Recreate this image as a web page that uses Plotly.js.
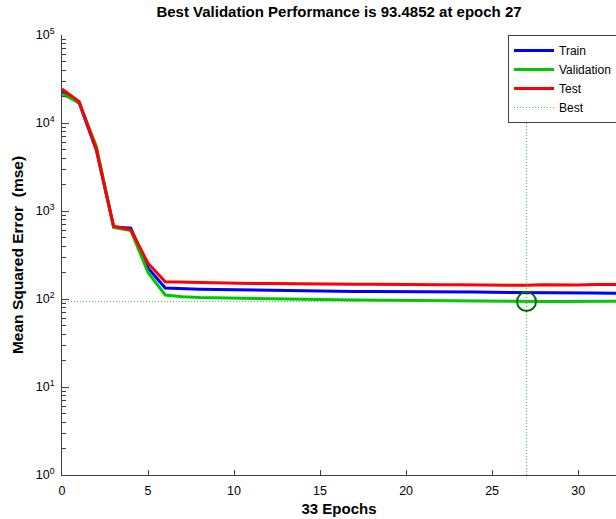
<!DOCTYPE html>
<html>
<head>
<meta charset="utf-8">
<script src="https://cdn.plot.ly/plotly-3.0.1.min.js"></script>
<style>html,body{margin:0;padding:0;background:#fff;}#chart{width:616px;height:519px;}</style>
</head>
<body>
<div id="chart"></div>
<script>
const epochs = [0,1,2,3,4,5,6,7,8,9,10,11,12,13,14,15,16,17,18,19,20,21,22,23,24,25,26,27,28,29,30,31,32,33];
const trainPerf = [22700,16800,4900,660,640,225,133,130,129,128,127,126,125,124,124,123,123,122,122,122,121,121,120,120,120,119,119,119,119,117,117,117,116,116];
const valPerf = [21400,17000,5400,650,600,200,111,106,104,103,102,101,100,99.5,99,98.5,98,97.5,97,96.8,96.5,96,95.5,95,94.6,94.2,93.8,93.4852,93.6,93.7,93.8,93.9,94.0,94.1];
const testPerf = [24300,17500,5000,670,610,255,157,155,153,152,151,150,150,149,148,148,147,147,147,146,146,145,145,145,144,144,144,143,145,144,144,146,146,146];
const bestEpoch = 27;
const bestPerf = 93.4852;
const xTicks = [0,5,10,15,20,25,30];
const yTickVals = [1,10,100,1000,10000,100000];
const yTickText = ['10<sup>0</sup>','10<sup>1</sup>','10<sup>2</sup>','10<sup>3</sup>','10<sup>4</sup>','10<sup>5</sup>'];
const yMinorVals = [];
for (let d = 1; d < 100000; d *= 10) { for (let m = 2; m <= 9; m++) yMinorVals.push(m * d); }

const font = "Liberation Sans, Arial, Helvetica, sans-serif";
const bestColor = 'rgb(60,200,60)';
const traces = [
  {x: epochs, y: trainPerf, name: 'Train', mode: 'lines', line: {color: 'rgb(0,0,255)', width: 3}},
  {x: epochs, y: valPerf, name: 'Validation', mode: 'lines', line: {color: 'rgb(0,200,0)', width: 3}},
  {x: epochs, y: testPerf, name: 'Test', mode: 'lines', line: {color: 'rgb(255,0,0)', width: 3}},
  {x: [bestEpoch, bestEpoch], y: [1, 100000], name: 'Best', mode: 'lines', line: {color: bestColor, width: 1, dash: '1px,2px'}},
  {x: [0, 33], y: [bestPerf, bestPerf], showlegend: false, mode: 'lines', line: {color: bestColor, width: 1, dash: '1px,2px'}},
  {x: [bestEpoch], y: [bestPerf], showlegend: false, mode: 'markers', marker: {symbol: 'circle-open', size: 19, color: 'rgb(0,110,0)', line: {width: 2, color: 'rgb(0,110,0)'}}}
];
const layout = {
  width: 616, height: 519,
  margin: {l: 62, r: 0, t: 35, b: 44, autoexpand: false},
  paper_bgcolor: '#fff', plot_bgcolor: '#fff',
  font: {family: font, size: 12, color: '#000'},
  title: {text: '<b>Best Validation Performance is 93.4852 at epoch 27</b>', x: 0.5, xref: 'paper', y: 0.977, yanchor: 'middle', font: {size: 15, family: font, color: '#000'}},
  xaxis: {
    range: [0, 32.2], tickvals: xTicks, ticktext: xTicks.map(String),
    ticks: 'inside', ticklen: 5, tickcolor: '#404040', showline: true, linecolor: '#404040', linewidth: 1,
    showgrid: false, zeroline: false, mirror: false, ticklabelstandoff: 4,
    title: {text: '<b>33 Epochs</b>', font: {size: 15, family: font}, standoff: 6},
    tickfont: {size: 12.5}
  },
  yaxis: {
    type: 'log', range: [0, 5], tickvals: yTickVals, ticktext: yTickText,
    ticks: 'inside', ticklen: 7, tickcolor: '#404040', showline: true, linecolor: '#404040', linewidth: 1,
    showgrid: false, zeroline: false, mirror: false, ticklabelstandoff: 4,
    minor: {ticks: 'inside', ticklen: 3.5, tickcolor: '#404040', tickvals: yMinorVals, showgrid: false},
    title: {text: '<b>Mean Squared Error  (mse)</b>', font: {size: 15.5, family: font}, standoff: 8},
    tickfont: {size: 12.5}
  },
  legend: {
    xref: 'container', yref: 'container',
    x: 508 / 616, y: 1 - 35 / 519, xanchor: 'left', yanchor: 'top',
    bgcolor: '#fff', bordercolor: '#404040', borderwidth: 1,
    font: {size: 12, family: font}, tracegroupgap: 0, itemwidth: 40
  },
  showlegend: true
};
Plotly.newPlot('chart', traces, layout, {staticPlot: true, displayModeBar: false});
</script>
</body>
</html>
